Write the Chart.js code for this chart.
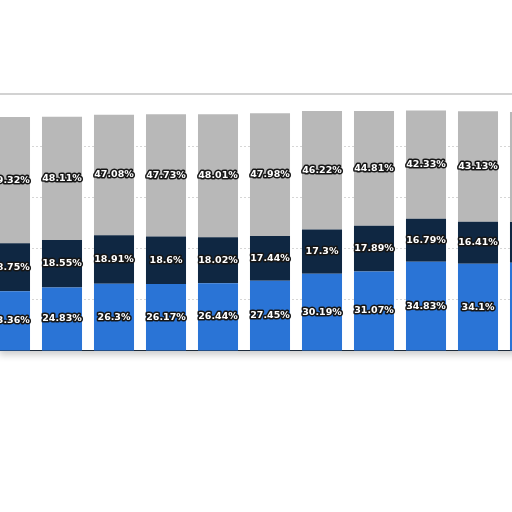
<!DOCTYPE html>
<html>
<head>
<meta charset="utf-8">
<script src="https://cdn.jsdelivr.net/npm/chart.js@4/dist/chart.umd.min.js"></script>
<style>
    html, body { margin: 0; padding: 0; background: #fff; overflow: hidden; }
    body { width: 512px; height: 512px; position: relative; }
    .card {
        position: absolute; left: -4px; top: 93px; width: 530px; height: 256px;
        background: #fff; border-top: 2px solid #d2d2d2;
        box-shadow: 0 7px 7px -3px rgba(0,0,0,0.2);
    }
    .wrap { position: absolute; left: -16px; top: 95px; width: 572px; height: 256px; }
</style>
</head>
<body>
<div class="card"></div>
<div class="wrap"><canvas id="stackChart"></canvas></div>
<script>
// Chart data (bars run left to right)
const categories = ['1', '2', '3', '4', '5', '6', '7', '8', '9', '10', '11'];
const blueValues = [23.36, 24.83, 26.3, 26.17, 26.44, 27.45, 30.19, 31.07, 34.83, 34.1, 34.5];
const navyValues = [18.75, 18.55, 18.91, 18.6, 18.02, 17.44, 17.3, 17.89, 16.79, 16.41, 15.9];
const grayValues = [49.32, 48.11, 47.08, 47.73, 48.01, 47.98, 46.22, 44.81, 42.33, 43.13, 43.0];

const chartColors = {
    blue: '#2a74d6',
    navy: '#0f2742',
    gray: '#b8b8b8'
};

// Draw the value labels in the middle of each segment
const segmentLabels = {
    id: 'segmentLabels',
    afterDatasetsDraw(chart) {
        const ctx = chart.ctx;
        ctx.save();
        ctx.font = 'bold 9.5px "DejaVu Sans"';
        ctx.textAlign = 'center';
        ctx.textBaseline = 'middle';
        ctx.lineJoin = 'round';
        chart.data.datasets.forEach((ds, i) => {
            chart.getDatasetMeta(i).data.forEach((bar, j) => {
                const text = ds.data[j] + '%';
                const y = (bar.y + bar.base) / 2;
                ctx.lineWidth = 3.2;
                ctx.strokeStyle = '#161616';
                ctx.strokeText(text, bar.x, y);
                ctx.fillStyle = '#ffffff';
                ctx.fillText(text, bar.x, y);
            });
        });
        ctx.restore();
    }
};

const createStackChart = () => {
    const ctx = document.getElementById('stackChart').getContext('2d');
    return new Chart(ctx, {
        type: 'bar',
        data: {
            labels: categories,
            datasets: [
                { data: blueValues, backgroundColor: chartColors.blue },
                { data: navyValues, backgroundColor: chartColors.navy },
                { data: grayValues, backgroundColor: chartColors.gray }
            ]
        },
        options: {
            responsive: true,
            maintainAspectRatio: false,
            animation: false,
            layout: { padding: 0 },
            datasets: {
                bar: { categoryPercentage: 1, barPercentage: 0.77, borderWidth: 0 }
            },
            plugins: {
                legend: { display: false },
                tooltip: { enabled: false }
            },
            scales: {
                x: {
                    stacked: true,
                    ticks: { display: false },
                    grid: { display: false, drawTicks: false },
                    border: { color: '#1c2a3a', width: 1.5 }
                },
                y: {
                    stacked: true,
                    min: 0,
                    max: 100,
                    ticks: { display: false, stepSize: 20 },
                    grid: {
                        color: (c) => (c.tick && c.tick.value === 100) ? 'rgba(0,0,0,0)' : '#d6d6d6',
                        drawTicks: false,
                        lineWidth: 1
                    },
                    border: { display: false, dash: [2, 2] }
                }
            }
        },
        plugins: [segmentLabels]
    });
};

document.addEventListener('DOMContentLoaded', () => {
    const stackChart = createStackChart();
});
</script>
</body>
</html>
